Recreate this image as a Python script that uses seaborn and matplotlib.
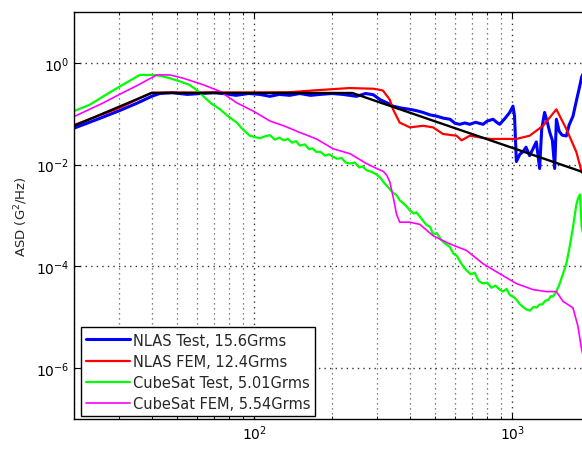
import matplotlib
matplotlib.use('Agg')
import matplotlib.pyplot as plt
import matplotlib.ticker as mticker
import numpy as np
import pandas as pd
import seaborn as sns

# ---- data (frequency in Hz, ASD in G^2/Hz) ----
spec_freq = [20, 40, 240, 2000]
spec_asd = [0.058, 0.256, 0.256, 0.0064]

nlas_test_freq = [20, 25, 30, 35, 40, 43, 48, 55, 62, 70, 78, 85, 95, 105, 115, 125, 137,
                  150, 165, 180, 200, 220, 249, 270, 289, 307, 330, 345, 370, 401, 425, 451,
                  480, 508, 540, 573, 600, 626, 655, 684, 720, 770, 800, 842, 870, 893, 935,
                  977, 1006, 1020, 1037, 1070, 1100, 1130, 1167, 1200, 1239, 1276, 1300,
                  1334, 1365, 1396, 1430, 1460, 1482, 1520, 1560, 1620, 1660, 1718, 1780,
                  1823, 1857, 2000]
nlas_test_asd = [0.052, 0.080, 0.115, 0.16, 0.22, 0.25, 0.26, 0.24, 0.25, 0.26, 0.245, 0.23,
                 0.25, 0.24, 0.22, 0.24, 0.23, 0.25, 0.23, 0.24, 0.25, 0.24, 0.22, 0.25, 0.237,
                 0.19, 0.16, 0.141, 0.13, 0.122, 0.115, 0.106, 0.095, 0.090, 0.082, 0.078,
                 0.065, 0.062, 0.066, 0.062, 0.068, 0.062, 0.072, 0.078, 0.068, 0.062, 0.08,
                 0.106, 0.141, 0.09, 0.0115, 0.016, 0.0179, 0.022, 0.015, 0.020, 0.028, 0.0084,
                 0.05, 0.106, 0.07, 0.0437, 0.03, 0.0084, 0.078, 0.045, 0.038, 0.0366, 0.06,
                 0.089, 0.2, 0.339, 0.53, 1.2]

nlas_fem_freq = [20, 30, 40, 60, 100, 137, 169, 234, 290, 315, 335, 345, 366, 401, 451, 493,
                 539, 608, 636, 684, 817, 1037, 1167, 1315, 1482, 1620, 1771, 1857, 2000]
nlas_fem_asd = [0.06, 0.13, 0.26, 0.262, 0.262, 0.265, 0.287, 0.32, 0.31, 0.287, 0.19, 0.122,
                0.067, 0.054, 0.058, 0.054, 0.040, 0.037, 0.030, 0.037, 0.032, 0.032, 0.037,
                0.058, 0.122, 0.050, 0.0177, 0.0072, 0.004]

cubesat_test_freq = [20, 23, 26, 30, 33, 36, 40, 43, 47, 51, 56, 60, 63.5, 68, 73.7, 79, 85.5,
                     90, 96, 100, 105, 110, 115, 120, 125, 130, 135, 140, 145, 150, 157, 163,
                     168, 174, 180, 188, 195, 202, 210, 218, 226, 235, 245, 255, 263, 272, 285,
                     298, 308, 316, 330, 345, 356, 366, 380, 390, 401, 415, 425, 438, 450, 465,
                     480, 493, 510, 530, 550, 573, 590, 610, 630, 650, 664, 690, 715, 740, 770,
                     800, 830, 860, 893, 920, 950, 980, 1006, 1040, 1070, 1100, 1135, 1170,
                     1210, 1240, 1276, 1310, 1340, 1380, 1410, 1439, 1480, 1527, 1570, 1620,
                     1670, 1718, 1771, 1800, 1830, 1857, 2000]
cubesat_test_asd = [0.113, 0.15, 0.22, 0.34, 0.45, 0.58, 0.58, 0.56, 0.50, 0.44, 0.37, 0.29,
                    0.22, 0.16, 0.122, 0.09, 0.067, 0.05, 0.037, 0.035, 0.033, 0.036, 0.038,
                    0.031, 0.034, 0.030, 0.032, 0.027, 0.029, 0.0237, 0.025, 0.020, 0.021,
                    0.0177, 0.018, 0.015, 0.016, 0.0142, 0.013, 0.0135, 0.011, 0.0105, 0.011,
                    0.0088, 0.0092, 0.0078, 0.0072, 0.0064, 0.0055, 0.0046, 0.0036, 0.0028,
                    0.0025, 0.0020, 0.0017, 0.0015, 0.00125, 0.0011, 0.00115, 0.00095, 0.0008,
                    0.00065, 0.0006, 0.00043, 0.00045, 0.00033, 0.00028, 0.00024, 0.00018,
                    0.00016, 0.00012, 9.5e-5, 8.4e-5, 7.0e-5, 7.5e-5, 5.2e-5, 4.6e-5, 4.8e-5,
                    3.8e-5, 4.2e-5, 3.5e-5, 3.2e-5, 3.6e-5, 2.7e-5, 2.57e-5, 2.2e-5, 1.8e-5,
                    1.6e-5, 1.42e-5, 1.35e-5, 1.6e-5, 1.55e-5, 1.78e-5, 1.8e-5, 2.1e-5, 2.2e-5,
                    2.6e-5, 2.57e-5, 3.2e-5, 4.6e-5, 7.0e-5, 1.13e-4, 2.5e-4, 5.8e-4, 1.64e-3,
                    2.2e-3, 2.6e-3, 6e-4, 1e-4]

cubesat_fem_freq = [20, 26, 30, 35, 41.9, 47, 53, 63.5, 73.7, 85.5, 99, 115, 130, 150, 174,
                    202, 235, 272, 298, 316, 326, 335, 346, 356, 366, 400, 438, 493, 573, 664,
                    770, 893, 1037, 1202, 1350, 1482, 1571, 1718, 1796, 1857, 2000]
cubesat_fem_asd = [0.088, 0.164, 0.24, 0.355, 0.58, 0.58, 0.50, 0.37, 0.275, 0.164, 0.113,
                   0.072, 0.058, 0.043, 0.032, 0.0205, 0.0164, 0.0105, 0.0084, 0.0074, 0.0062,
                   0.0046, 0.0022, 0.00105, 7.4e-4, 7.4e-4, 6.7e-4, 4.0e-4, 2.76e-4, 2.06e-4,
                   1.13e-4, 7.2e-5, 4.6e-5, 3.5e-5, 3.2e-5, 3.2e-5, 2.06e-5, 1.53e-5, 6.7e-6,
                   2.3e-6, 5e-7]

labels = ['NLAS Test, 15.6Grms', 'NLAS FEM, 12.4Grms',
          'CubeSat Test, 5.01Grms', 'CubeSat FEM, 5.54Grms']

sns.set_style('ticks')
plt.rcParams['font.family'] = ['DejaVu Sans']
plt.rcParams['xtick.direction'] = 'in'
plt.rcParams['ytick.direction'] = 'in'

fig = plt.figure(figsize=(5.82, 4.56), dpi=100)
ax = fig.add_axes([0.1271, 0.0789, 0.8866, 0.8926])

series = [
    (nlas_test_freq, nlas_test_asd, '#0000ff', 2.2, labels[0]),
    (nlas_fem_freq, nlas_fem_asd, '#ff0000', 1.6, labels[1]),
    (cubesat_test_freq, cubesat_test_asd, '#00ff00', 1.6, labels[2]),
    (cubesat_fem_freq, cubesat_fem_asd, '#ff00ff', 1.2, labels[3]),
]
for freq, asd, color, lw, label in series:
    df = pd.DataFrame({'freq': freq, 'asd': asd})
    sns.lineplot(x='freq', y='asd', data=df, color=color, linewidth=lw,
                 label=label, ax=ax, estimator=None, sort=False)

spec_df = pd.DataFrame({'freq': spec_freq, 'asd': spec_asd})
sns.lineplot(x='freq', y='asd', data=spec_df, color='black', linewidth=1.7,
             ax=ax, estimator=None, sort=False, legend=False)

ax.set_xscale('log')
ax.set_yscale('log')
ax.set_xlim(20, 2000)
ax.set_ylim(1e-7, 1e1)

ax.xaxis.set_major_locator(mticker.LogLocator(base=10))
ax.xaxis.set_minor_locator(mticker.LogLocator(base=10, subs=np.arange(2, 10)))
ax.xaxis.set_minor_formatter(mticker.NullFormatter())
ax.yaxis.set_major_locator(mticker.FixedLocator([1e-6, 1e-4, 1e-2, 1e0]))
ax.yaxis.set_minor_locator(mticker.NullLocator())

ax.grid(which='major', axis='both', linestyle=(0, (1, 3)), color='0.2', linewidth=1.0)
ax.grid(which='minor', axis='x', linestyle=(0, (1, 3)), color='0.35', linewidth=0.9)

ax.tick_params(which='both', top=True, right=True, labelsize=10, colors='black')
ax.tick_params(which='major', length=4)
ax.tick_params(which='minor', length=2)
for side in ['top', 'bottom', 'left', 'right']:
    ax.spines[side].set_linewidth(1.0)
    ax.spines[side].set_color('black')

ax.set_xlabel('')
ax.set_ylabel('ASD (G$^2$/Hz)', fontsize=9.5, labelpad=4)

leg = ax.legend(loc='lower left', bbox_to_anchor=(0.0136, 0.0074), borderaxespad=0,
                fancybox=False, edgecolor='black', framealpha=1, fontsize=10.5,
                handlelength=3.0, handletextpad=0.2, labelspacing=0.42, borderpad=0.35)
leg.get_frame().set_linewidth(1.0)

fig.savefig('out.png', dpi=100)
